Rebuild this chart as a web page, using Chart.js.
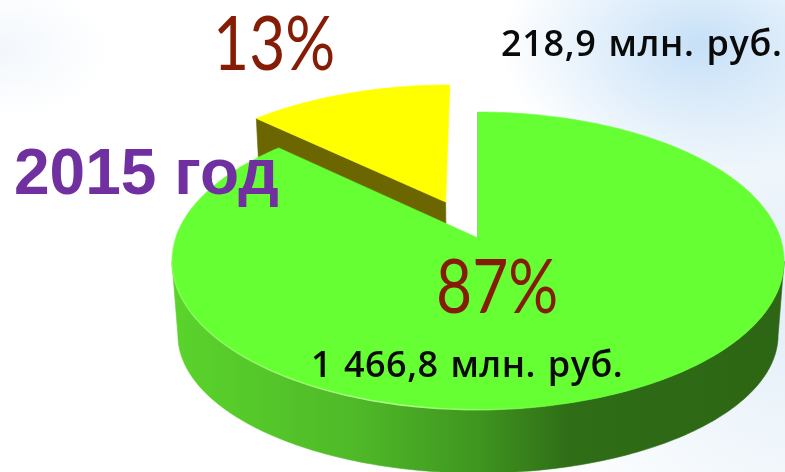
<!DOCTYPE html>
<html lang="ru">
<head>
    <meta charset="UTF-8">
    <title>2015 год</title>
    <script src="https://cdn.jsdelivr.net/npm/chart.js"></script>
    <style>
        html, body {
            margin: 0;
            width: 785px;
            height: 472px;
            overflow: hidden;
        }
        body {
            position: relative;
            background:
                radial-gradient(ellipse 200px 130px at 700px 45px, #c6e0f7 0%, rgba(198, 224, 247, 0) 100%),
                radial-gradient(ellipse 320px 320px at 810px 300px, #e2eef8 0%, rgba(226, 238, 248, 0) 100%),
                radial-gradient(ellipse 110px 70px at 0px 50px, #f2f7fc 0%, rgba(242, 247, 252, 0) 100%),
                #ffffff;
        }
        canvas {
            position: absolute;
            left: 0;
            top: 0;
        }
        .lbl {
            position: absolute;
            white-space: nowrap;
            line-height: 1;
        }
        .pct {
            font-family: Lato, sans-serif;
            font-size: 76px;
            color: #851c06;
            transform: scaleX(0.82);
            transform-origin: left top;
        }
        .sum {
            font-family: "Open Sans", sans-serif;
            font-weight: 600;
            font-size: 36px;
            letter-spacing: 0.65px;
            word-spacing: 2px;
            color: #0a0a0a;
        }
        .year {
            font-family: "Liberation Sans", sans-serif;
            font-weight: bold;
            font-size: 64px;
            color: #7030a0;
        }
    </style>
</head>
<body>
    <canvas id="pie" width="785" height="472"></canvas>
    <span class="lbl pct" style="left:213px;top:3px">13%</span>
    <span class="lbl sum" style="left:501px;top:25px">218,9 млн. руб.</span>
    <span class="lbl year" style="left:14px;top:140px">2015 год</span>
    <span class="lbl pct" style="left:436px;top:246px">87%</span>
    <span class="lbl sum" style="left:311px;top:346px;letter-spacing:0.5px">1 466,8 млн. руб.</span>

<script>
const categories = ['1 466,8 млн. руб.', '218,9 млн. руб.'];
const values = [1466.8, 218.9];
const sliceColors = ['#66ff33', '#ffff00'];
const explode = [0, 56];

// top and bottom face of the disc, fitted on the picture (tilted plane)
const tilt = 0.154;
const topFace = { cx: 478, a: -108.7, b: 238, c: 302.4 };
const bottomFace = { cx: 478, a: -86.4, b: 313.8, c: 296.5 };

function project(face, u, v) {
    const w = 1 + tilt * v;
    return [face.cx + face.c * u / w, (face.a * v + face.b) / w];
}

function tracePoints(ctx, pts) {
    ctx.beginPath();
    pts.forEach((p, i) => i ? ctx.lineTo(p[0], p[1]) : ctx.moveTo(p[0], p[1]));
}

function fillPoly(ctx, pts, color) {
    tracePoints(ctx, pts);
    ctx.closePath();
    ctx.fillStyle = color;
    ctx.strokeStyle = color;
    ctx.lineWidth = 0.6;
    ctx.fill();
    ctx.stroke();
}

function arcPlanePoints(arc) {
    const off = arc.options.offset / arc.outerRadius;
    const mid = (arc.startAngle + arc.endAngle) / 2;
    const ox = Math.cos(mid) * off;
    const oy = -Math.sin(mid) * off;
    const rim = [];
    const steps = Math.ceil((arc.endAngle - arc.startAngle) * 60);
    for (let i = 0; i <= steps; i++) {
        const t = arc.startAngle + (arc.endAngle - arc.startAngle) * i / steps;
        rim.push({ t: t, u: ox + Math.cos(t), v: oy - Math.sin(t) });
    }
    return { apex: { u: ox, v: oy }, rim: rim };
}

const disc3d = {
    id: 'disc3d',
    beforeDatasetDraw(chart) {
        const ctx = chart.ctx;
        const arcs = chart.getDatasetMeta(0).data;
        const sideGrad = ctx.createLinearGradient(172, 0, 785, 0);
        sideGrad.addColorStop(0, '#5ad42c');
        sideGrad.addColorStop(0.3, '#4fb928');
        sideGrad.addColorStop(0.5, '#3f951f');
        sideGrad.addColorStop(0.65, '#2f6d16');
        sideGrad.addColorStop(1, '#2d6614');
        const sideColors = [sideGrad, '#6b6600'];

        // last slice first, the big one lies over the wall of the small one
        for (let n = arcs.length - 1; n >= 0; n--) {
            const arc = arcs[n];
            const plane = arcPlanePoints(arc);
            const first = plane.rim[0];

            // wall along the radius where the slice starts
            fillPoly(ctx, [
                project(topFace, plane.apex.u, plane.apex.v),
                project(topFace, first.u, first.v),
                project(bottomFace, first.u, first.v),
                project(bottomFace, plane.apex.u, plane.apex.v)
            ], sideColors[n]);

            // front rim, from the widest point on the right to the widest on the left
            const front = plane.rim.filter(p => p.t > tilt && p.t < Math.PI - tilt);
            if (front.length > 1) {
                const upper = front.map(p => project(topFace, p.u, p.v));
                const lower = front.map(p => project(bottomFace, p.u, p.v)).reverse();
                fillPoly(ctx, upper.concat(lower), sideColors[n]);
            }

            // top face
            const face = [project(topFace, plane.apex.u, plane.apex.v)]
                .concat(plane.rim.map(p => project(topFace, p.u, p.v)));
            fillPoly(ctx, face, arc.options.backgroundColor);

            // light edge on the lower left of the top face
            if (front.length > 1) {
                const edge = ctx.createLinearGradient(172, 0, 560, 0);
                edge.addColorStop(0, 'rgba(205,255,170,0.25)');
                edge.addColorStop(0.6, 'rgba(205,255,170,0.75)');
                edge.addColorStop(1, 'rgba(205,255,170,0)');
                const lowerLeft = plane.rim
                    .filter(p => p.t > 1.2 && p.t < Math.PI)
                    .map(p => project(topFace, p.u, p.v));
                tracePoints(ctx, lowerLeft);
                ctx.strokeStyle = edge;
                ctx.lineWidth = 1.5;
                ctx.stroke();
            }
        }
        return false;
    }
};

new Chart(document.getElementById('pie'), {
    type: 'pie',
    data: {
        labels: categories,
        datasets: [{
            data: values,
            backgroundColor: sliceColors,
            offset: explode,
            borderWidth: 0
        }]
    },
    options: {
        responsive: false,
        animation: false,
        radius: 200,
        plugins: {
            legend: { display: false },
            tooltip: { enabled: false }
        }
    },
    plugins: [disc3d]
});
</script>

</body>
</html>
